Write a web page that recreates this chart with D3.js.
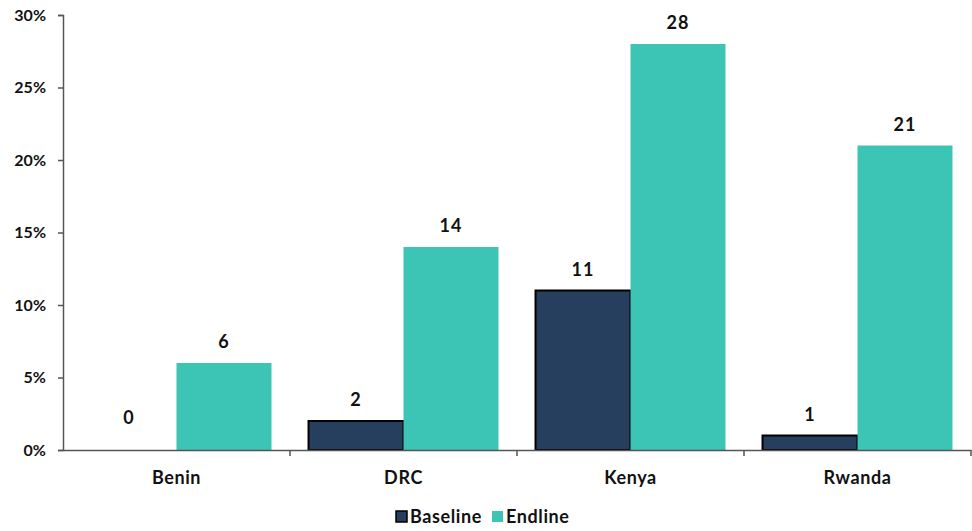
<!DOCTYPE html>
<html>
<head>
<meta charset="utf-8">
<script src="https://cdn.jsdelivr.net/npm/d3@7"></script>
<style>
  body { margin: 0; background: #fff; }
  svg text { font-family: "Lato", "Open Sans", sans-serif; font-weight: 700; fill: #111; }
</style>
</head>
<body>
<svg id="chart" width="972" height="531"></svg>
<script>
// chart data
const countries = ["Benin", "DRC", "Kenya", "Rwanda"];
const seriesNames = ["Baseline", "Endline"];
const baseline = [0, 2, 11, 1];
const endline = [6, 14, 28, 21];
const yTicks = [0, 5, 10, 15, 20, 25, 30];

const colors = { Baseline: "#263f5f", Endline: "#3cc4b4" };

const margin = { top: 15, right: 1, bottom: 81, left: 63 };
const width = 972 - margin.left - margin.right;
const height = 531 - margin.top - margin.bottom;

const svg = d3.select("#chart");
const g = svg.append("g").attr("transform", `translate(${margin.left},${margin.top})`);

const x = d3.scaleBand().domain(countries).range([0, width]).paddingInner(0).paddingOuter(0);
const xs = d3.scaleBand().domain(seriesNames).range([0, x.bandwidth()]).paddingInner(0).paddingOuter(0.195);
const y = d3.scaleLinear().domain([0, 30]).range([height, 0]);

// rows per country
const rows = countries.map((c, i) => ({ country: c, Baseline: baseline[i], Endline: endline[i] }));

const groups = g.selectAll(".grp")
  .data(rows)
  .join("g")
  .attr("class", "grp")
  .attr("transform", d => `translate(${x(d.country)},0)`);

groups.selectAll("rect")
  .data(d => seriesNames.map(s => ({ key: s, value: d[s] })))
  .join("rect")
  .attr("x", d => xs(d.key))
  .attr("y", d => y(d.value))
  .attr("width", xs.bandwidth())
  .attr("height", d => height - y(d.value))
  .attr("fill", d => colors[d.key])
  .attr("stroke", d => d.key === "Baseline" && d.value > 0 ? "#000" : "none")
  .attr("stroke-width", 2);

groups.selectAll(".val")
  .data(d => seriesNames.map(s => ({ key: s, value: d[s] })))
  .join("text")
  .attr("class", "val")
  .attr("x", d => xs(d.key) + xs.bandwidth() / 2)
  .attr("y", d => y(d.value) - (d.value === 0 ? 26 : 15))
  .attr("text-anchor", "middle")
  .style("font-size", "18px")
  .style("letter-spacing", "1px")
  .text(d => d.value);

// y axis
const yAxis = g.append("g")
  .call(d3.axisLeft(y).tickValues(yTicks).tickFormat(d => d + "%").tickSize(5).tickPadding(12));
yAxis.select(".domain").attr("stroke", "#555").attr("stroke-width", 1.5);
yAxis.selectAll(".tick line").attr("stroke", "#555").attr("stroke-width", 1.5);
yAxis.selectAll(".tick text").style("font-size", "16px").attr("fill", "#111");

// x axis
const xAxis = g.append("g")
  .attr("transform", `translate(0,${height})`)
  .call(d3.axisBottom(x).tickSize(0).tickPadding(21));
xAxis.select(".domain").attr("stroke", "#555").attr("stroke-width", 1.5);
xAxis.selectAll(".tick text").style("font-size", "18px").style("letter-spacing", "0.6px").attr("fill", "#111");

// tick marks between categories
g.append("g")
  .selectAll("line")
  .data(countries.slice(1).concat(["end"]))
  .join("line")
  .attr("x1", (d, i) => i < countries.length - 1 ? x(d) : width)
  .attr("x2", (d, i) => i < countries.length - 1 ? x(d) : width)
  .attr("y1", height)
  .attr("y2", height + 6)
  .attr("stroke", "#555")
  .attr("stroke-width", 1.5);

// legend
const legend = svg.append("g").attr("transform", "translate(396,517)");
const legendX = [0, 96];
seriesNames.forEach((s, i) => {
  const lg = legend.append("g").attr("transform", `translate(${legendX[i]},0)`);
  lg.append("rect")
    .attr("x", 0).attr("y", -6)
    .attr("width", 11).attr("height", 11)
    .attr("fill", colors[s])
    .attr("stroke", s === "Baseline" ? "#000" : "none")
    .attr("stroke-width", 1.5);
  lg.append("text")
    .attr("x", 14).attr("y", 6)
    .style("font-size", "18px")
    .style("letter-spacing", "0.6px")
    .text(s);
});
</script>
</body>
</html>
